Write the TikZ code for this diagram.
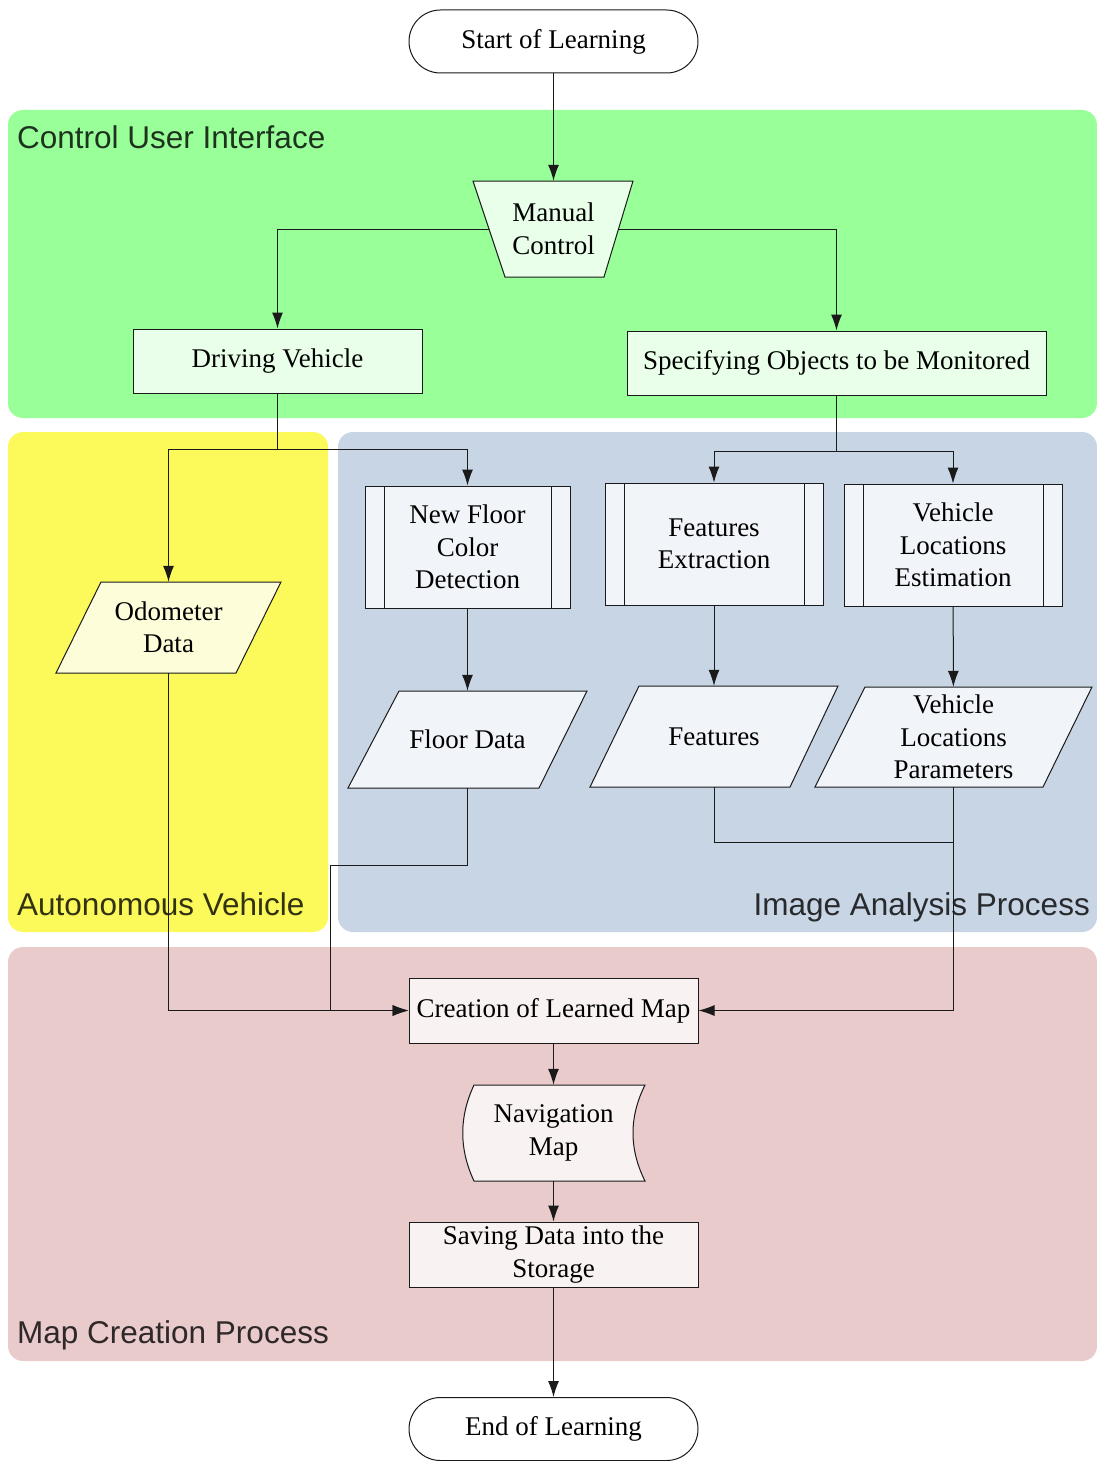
\documentclass[tikz,border=0pt]{standalone}
\usepackage{fontspec}
\setmainfont{Liberation Serif}
\newfontfamily\lanefont{Liberation Sans}
\usetikzlibrary{arrows.meta}

\definecolor{uiPanel}{HTML}{99FF99}
\definecolor{uiFill}{HTML}{E9FFE9}
\definecolor{avPanel}{HTML}{FCFA5A}
\definecolor{avFill}{HTML}{FDFDDA}
\definecolor{iaPanel}{HTML}{C8D5E4}
\definecolor{iaFill}{HTML}{F1F4F8}
\definecolor{mcPanel}{HTML}{EACBCB}
\definecolor{mcFill}{HTML}{F9F2F2}
\definecolor{edge}{HTML}{1A1A1A}

\begin{document}
\begin{tikzpicture}[x=1pt,y=-1pt,
  every node/.style={font=\fontsize{27}{32.5}\selectfont, align=center, inner sep=0pt},
  panel/.style={rounded corners=15pt},
  lane/.style={font=\lanefont\fontsize{31.5}{36}\selectfont, text=black, text opacity=0.8, inner sep=0pt},
  outline/.style={draw=edge, line width=1pt},
  terminal/.style={outline, fill=white, rounded corners=31.5pt, minimum width=289pt, minimum height=63pt},
  plainbox/.style={outline, rectangle},
  subproc/.style={outline, rectangle,
    path picture={
      \draw[edge, line width=1pt] ([xshift=19pt]path picture bounding box.north west) -- ([xshift=19pt]path picture bounding box.south west);
      \draw[edge, line width=1pt] ([xshift=-19pt]path picture bounding box.north east) -- ([xshift=-19pt]path picture bounding box.south east);
    }},
  conn/.style={edge, line width=1pt, -{Latex[length=16pt,width=11pt]}},
  link/.style={edge, line width=1pt}
]
\useasboundingbox (0,0) rectangle (1097,1461);

% swimlane panels
\fill[uiPanel, panel] (8,110) rectangle (1097,418);
\fill[avPanel, panel] (8,432) rectangle (328,932);
\fill[iaPanel, panel] (338,432) rectangle (1097,932);
\fill[mcPanel, panel] (8,947) rectangle (1097,1361);

\node[lane, anchor=base west] (laneUI) at (17,148) {Control User Interface};
\node[lane, anchor=base west] (laneAV) at (17,915) {Autonomous Vehicle};
\node[lane, anchor=base east] (laneIA) at (1090,915) {Image Analysis Process};
\node[lane, anchor=base west] (laneMC) at (17,1343) {Map Creation Process};

% outlines of the slanted and curved symbols
\filldraw[outline, fill=uiFill] (473,181) -- (633,181) -- (604,277) -- (505,277) -- cycle;
\filldraw[outline, fill=avFill] (101,582) -- (281,582) -- (236,673) -- (56,673) -- cycle;
\filldraw[outline, fill=iaFill] (399,691) -- (587,691) -- (539,788) -- (348,788) -- cycle;
\filldraw[outline, fill=iaFill] (639,686) -- (838,686) -- (790,787) -- (590,787) -- cycle;
\filldraw[outline, fill=iaFill] (865,687) -- (1092,687) -- (1043,787) -- (815,787) -- cycle;
\filldraw[outline, fill=mcFill] (474,1085) -- (645,1085)
  .. controls (629,1117) and (629,1149) .. (645,1181) -- (474,1181)
  .. controls (459,1149) and (459,1117) .. (474,1085) -- cycle;

% flow nodes
\node[terminal] (start) at (553.5,41.5) {Start of Learning};
\node[minimum width=129pt, minimum height=96pt] (manual) at (553.5,229) {Manual\\Control};
\node[plainbox, fill=uiFill, minimum width=289pt, minimum height=64pt] (drive) at (277.5,361) {Driving Vehicle};
\node[plainbox, fill=uiFill, minimum width=419pt, minimum height=64pt] (spec) at (836.5,363) {Specifying Objects to be Monitored};

\node[minimum width=180pt, minimum height=91pt] (odo) at (168.5,627.5) {Odometer\\Data};

\node[subproc, fill=iaFill, minimum width=205pt, minimum height=122pt] (nfcd) at (467.5,547) {New Floor\\Color\\Detection};
\node[subproc, fill=iaFill, minimum width=218pt, minimum height=122pt] (fe) at (714,544) {Features\\Extraction};
\node[subproc, fill=iaFill, minimum width=218pt, minimum height=122pt] (vle) at (953,545) {Vehicle\\Locations\\Estimation};
\node[minimum width=190pt, minimum height=97pt] (floor) at (467.5,739.5) {Floor Data};
\node[minimum width=200pt, minimum height=101pt] (feat) at (714,736.5) {Features};
\node[minimum width=228pt, minimum height=100pt] (vlp) at (953.5,737) {Vehicle\\Locations\\Parameters};

\node[plainbox, fill=mcFill, minimum width=289pt, minimum height=65pt] (learn) at (553.5,1010.5) {Creation of Learned Map};
\node[minimum width=150pt, minimum height=96pt] (nav) at (553.5,1133) {Navigation\\Map};
\node[plainbox, fill=mcFill, minimum width=289pt, minimum height=65pt] (save) at (553.5,1254.5) {Saving Data into the\\Storage};
\node[terminal] (finish) at (553.5,1429) {End of Learning};

% junction points
\coordinate (dj) at (277.5,449);
\coordinate (sj) at (836.5,451);
\coordinate (fb) at (330,865);
\coordinate (fj) at (953.5,842);

% connectors
\draw[conn] (start) -- (manual);
\draw[conn] (manual.west) -| (drive.north);
\draw[conn] (manual.east) -| (spec.north);
\draw[link] (drive.south) -- (dj);
\draw[conn] (dj) -| (odo.north);
\draw[conn] (dj) -| (nfcd.north);
\draw[link] (spec.south) -- (sj);
\draw[conn] (sj) -| (fe.north);
\draw[conn] (sj) -| (vle.north);
\draw[conn] (nfcd) -- (floor);
\draw[conn] (fe) -- (feat);
\draw[conn] (vle) -- (vlp);
\draw[conn] (odo.south) |- (learn.west);
\draw[link] (floor.south) |- (fb);
\draw[conn] (fb) |- (learn.west);
\draw[link] (feat.south) |- (fj);
\draw[conn] (vlp.south) |- (learn.east);
\draw[conn] (learn) -- (nav);
\draw[conn] (nav) -- (save);
\draw[conn] (save) -- (finish);
\end{tikzpicture}
\end{document}
